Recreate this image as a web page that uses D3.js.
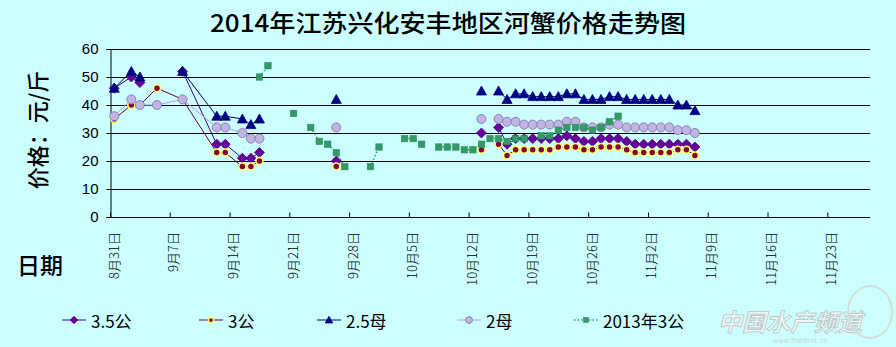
<!DOCTYPE html>
<html><head><meta charset="utf-8">
<script src="https://cdn.jsdelivr.net/npm/d3@7"></script>
<style>
html,body{margin:0;padding:0;background:#CCFFFF;}
svg{display:block;}
</style></head>
<body>
<svg id="chart" width="896" height="347"></svg>
<script>
// ---- data ----
const title = "2014年江苏兴化安丰地区河蟹价格走势图";
const yTitle = "价格：元/斤";
const xTitle = "日期";
const seriesNames = ["3.5公", "3公", "2.5母", "2母", "2013年3公"];
const yTicks = [0, 10, 20, 30, 40, 50, 60];
const tickDates = ["2014-08-31","2014-09-07","2014-09-14","2014-09-21","2014-09-28","2014-10-05","2014-10-12","2014-10-19","2014-10-26","2014-11-02","2014-11-09","2014-11-16","2014-11-23"];
const xDomain = ["2014-08-31", "2014-11-28"];

const dates2014 = ["2014-08-31","2014-09-02","2014-09-03","2014-09-05","2014-09-08","2014-09-12","2014-09-13","2014-09-15","2014-09-16","2014-09-17","2014-09-18","2014-09-26","2014-09-27","2014-10-13","2014-10-14","2014-10-15",
"2014-10-16","2014-10-17","2014-10-18","2014-10-19","2014-10-20","2014-10-21","2014-10-22","2014-10-23","2014-10-24","2014-10-25","2014-10-26","2014-10-27","2014-10-28","2014-10-29","2014-10-30","2014-10-31",
"2014-11-01","2014-11-02","2014-11-03","2014-11-04","2014-11-05","2014-11-06","2014-11-07"];
const gong35 = [46,50,48,null,52,26,26,21,21,23,null,20,null,30,null,32,
  26,28,28,28,28,28,28,29,28,27,27,28,28,28,27,26,
  26,26,26,26,26,26,25];
const gong3 = [35,40,40,46,42,23,23,18,18,20,null,18,null,24,null,26,
  22,24,24,24,24,24,25,25,25,24,24,25,25,25,24,23,
  23,23,23,23,24,24,22];
const mu25 = [46,52,50,null,52,36,36,35,33,35,null,42,null,45,null,45,
  42,44,44,43,43,43,43,44,44,42,42,42,43,43,42,42,
  42,42,42,42,40,40,38];
const mu2 = [36,42,40,40,42,32,32,30,28,28,null,32,null,35,null,35,
  34,34,33,33,33,33,33,34,34,32,32,32,33,33,32,32,
  32,32,32,32,31,31,30];

const dates2013 = ["2014-09-17","2014-09-18","2014-09-19","2014-09-21","2014-09-22","2014-09-23","2014-09-24","2014-09-25","2014-09-26","2014-09-27","2014-09-28","2014-09-30","2014-10-01","2014-10-02","2014-10-04","2014-10-05","2014-10-06","2014-10-07","2014-10-08","2014-10-09","2014-10-10","2014-10-11","2014-10-12","2014-10-13","2014-10-14","2014-10-15","2014-10-16","2014-10-17","2014-10-18","2014-10-19","2014-10-20","2014-10-21","2014-10-22","2014-10-23","2014-10-24","2014-10-25","2014-10-26","2014-10-27","2014-10-28","2014-10-29"];
const gong3y2013 = [50,54,null,37,null,32,27,26,23,18,null,18,25,null,28,28,26,null,25,25,25,24,24,26,28,28,27,28,28,null,29,29,31,32,32,32,31,32,34,36];

// ---- layout ----
const svg = d3.select("#chart");
const W = 896, H = 347;
const m = {left: 110, right: 870, top: 49, bottom: 217};
const parse = d3.timeParse("%Y-%m-%d");

const x = d3.scaleTime().domain(xDomain.map(parse)).range([m.left, m.right]);
const y = d3.scaleLinear().domain([0, 60]).range([m.bottom, m.top]);
const xc = d => x(d3.timeHour.offset(d, 12)); // points centred in their day

svg.append("rect").attr("width", W).attr("height", H).attr("fill", "#CCFFFF");

// title
svg.append("text").attr("x", 448).attr("y", 32).attr("text-anchor", "middle")
  .attr("font-family", "'Noto Sans CJK SC', sans-serif").attr("font-size", 24).attr("font-weight", 500)
  .attr("textLength", 476).attr("lengthAdjust", "spacingAndGlyphs")
  .attr("fill", "#000").text(title);

// gridlines
svg.append("g").selectAll("line").data(yTicks.filter(v => v > 0)).join("line")
  .attr("x1", m.left).attr("x2", m.right)
  .attr("y1", d => Math.round(y(d)) + 0.5).attr("y2", d => Math.round(y(d)) + 0.5)
  .attr("stroke", "#000").attr("stroke-width", 1);

// y axis
const yAxis = d3.axisLeft(y).tickValues(yTicks).tickSize(4).tickPadding(8);
const gy = svg.append("g").attr("transform", `translate(${m.left + 0.5},0)`).call(yAxis);
gy.select(".domain").attr("stroke", "#000");
gy.selectAll(".tick text").attr("font-family", "'Liberation Sans', Arial, sans-serif").attr("font-size", 15).attr("fill", "#000");

// x axis
const xAxis = d3.axisBottom(x).tickValues(tickDates.map(parse)).tickSize(-5).tickFormat(() => "");
const gx = svg.append("g").attr("transform", `translate(0,${Math.round(m.bottom) + 0.5})`).call(xAxis);
gx.select(".domain").attr("stroke", "#000").attr("d", `M${m.left},0H${m.right}`);
gx.selectAll(".tick line").attr("stroke", "#000");
const fmt = d => (d.getMonth() + 1) + "月" + d.getDate() + "日";
svg.append("g").selectAll("text").data(tickDates.map(parse)).join("text")
  .attr("transform", d => `translate(${x(d) + 3},232) rotate(-90)`)
  .attr("text-anchor", "end").attr("dominant-baseline", "central")
  .attr("font-family", "'Noto Sans CJK SC', sans-serif").attr("font-size", 13).attr("font-weight", 300)
  .attr("fill", "#000").text(fmt);

// axis titles
svg.append("text").attr("transform", "translate(36,130) rotate(-90)")
  .attr("text-anchor", "middle").attr("dominant-baseline", "central")
  .attr("font-family", "'Noto Sans CJK SC', sans-serif").attr("font-size", 22).attr("font-weight", 500)
  .attr("fill", "#000").text(yTitle);
svg.append("text").attr("x", 40).attr("y", 274).attr("text-anchor", "middle")
  .attr("font-family", "'Noto Sans CJK SC', sans-serif").attr("font-size", 23).attr("font-weight", 500)
  .attr("fill", "#000").text(xTitle);

// series styles
const styles = [
  {line: "#330099", dash: null, marker: "diamond", fill: "#660099", stroke: "#4B0082", size: 5},
  {line: "#660033", dash: null, marker: "dot", fill: "#800040", stroke: "#FFFF66", size: 3.5},
  {line: "#000066", dash: null, marker: "triangle", fill: "#000080", stroke: "#000080", size: 5},
  {line: "#B0A0E8", dash: null, marker: "circle", fill: "#C0B4E4", stroke: "#8C80B0", size: 4.5},
  {line: "#339966", dash: "1.5,2.2", marker: "square", fill: "#339966", stroke: "#2E8B5E", size: 3.2}
];
const seriesData = [
  dates2014.map((d, i) => ({d: parse(d), v: gong35[i]})),
  dates2014.map((d, i) => ({d: parse(d), v: gong3[i]})),
  dates2014.map((d, i) => ({d: parse(d), v: mu25[i]})),
  dates2014.map((d, i) => ({d: parse(d), v: mu2[i]})),
  dates2013.map((d, i) => ({d: parse(d), v: gong3y2013[i]}))
];

function drawMarker(g, type, cx, cy, st) {
  const s = st.size;
  if (type === "diamond") {
    g.append("path").attr("d", `M${cx},${cy - s}L${cx + s},${cy}L${cx},${cy + s}L${cx - s},${cy}Z`)
      .attr("fill", st.fill).attr("stroke", st.stroke).attr("stroke-width", 0.8);
  } else if (type === "dot") {
    g.append("circle").attr("cx", cx).attr("cy", cy).attr("r", s)
      .attr("fill", st.fill).attr("stroke", st.stroke).attr("stroke-width", 1.5);
  } else if (type === "triangle") {
    g.append("path").attr("d", `M${cx},${cy - s}L${cx + s},${cy + s * 0.8}L${cx - s},${cy + s * 0.8}Z`)
      .attr("fill", st.fill).attr("stroke", st.stroke).attr("stroke-width", 0.8);
  } else if (type === "circle") {
    g.append("circle").attr("cx", cx).attr("cy", cy).attr("r", s)
      .attr("fill", st.fill).attr("stroke", st.stroke).attr("stroke-width", 1);
  } else if (type === "square") {
    g.append("rect").attr("x", cx - s).attr("y", cy - s).attr("width", 2 * s).attr("height", 2 * s)
      .attr("fill", st.fill).attr("stroke", st.stroke).attr("stroke-width", 0.6);
  }
}

const line = d3.line().defined(p => p.v != null).x(p => xc(p.d)).y(p => y(p.v));
seriesData.forEach((data, i) => {
  const st = styles[i];
  const g = svg.append("g");
  g.append("path").datum(data).attr("d", line).attr("fill", "none")
    .attr("stroke", st.line).attr("stroke-width", i === 4 ? 1.5 : 1)
    .attr("stroke-dasharray", st.dash);
  data.filter(p => p.v != null).forEach(p => drawMarker(g, st.marker, xc(p.d), y(p.v), st));
});

// legend
const legendX = [62, 199, 317, 457, 574];
const lg = svg.append("g");
seriesNames.forEach((name, i) => {
  const st = styles[i];
  const lx = legendX[i], ly = 320;
  lg.append("line").attr("x1", lx).attr("x2", lx + 24).attr("y1", ly).attr("y2", ly)
    .attr("stroke", st.line).attr("stroke-width", i === 4 ? 1.5 : 1).attr("stroke-dasharray", st.dash);
  drawMarker(lg, st.marker, lx + 12, ly, Object.assign({}, st, {size: st.size * 0.75}));
  lg.append("text").attr("x", lx + 29).attr("y", ly).attr("dominant-baseline", "central")
    .attr("font-family", "'Noto Sans CJK SC', sans-serif").attr("font-size", 17)
    .attr("fill", "#000").text(name);
});

// watermark
svg.append("text").attr("x", 790).attr("y", 331).attr("text-anchor", "middle")
  .attr("font-family", "'Noto Sans CJK SC', sans-serif").attr("font-size", 24).attr("font-weight", 700)
  .attr("font-style", "italic")
  .attr("fill", "#EEF6F6").attr("stroke", "#B8C4C4").attr("stroke-width", 0.8).text("中国水产频道");
svg.append("text").attr("x", 800).attr("y", 343).attr("text-anchor", "middle")
  .attr("font-family", "'DejaVu Sans', sans-serif").attr("font-size", 7)
  .attr("fill", "#C8D4D4").text("www.fishfirst.cn");
svg.append("ellipse").attr("cx", 870).attr("cy", 312).attr("rx", 22).attr("ry", 26)
  .attr("fill", "none").attr("stroke", "#D4DEDE").attr("stroke-width", 2);
</script>
</body></html>
